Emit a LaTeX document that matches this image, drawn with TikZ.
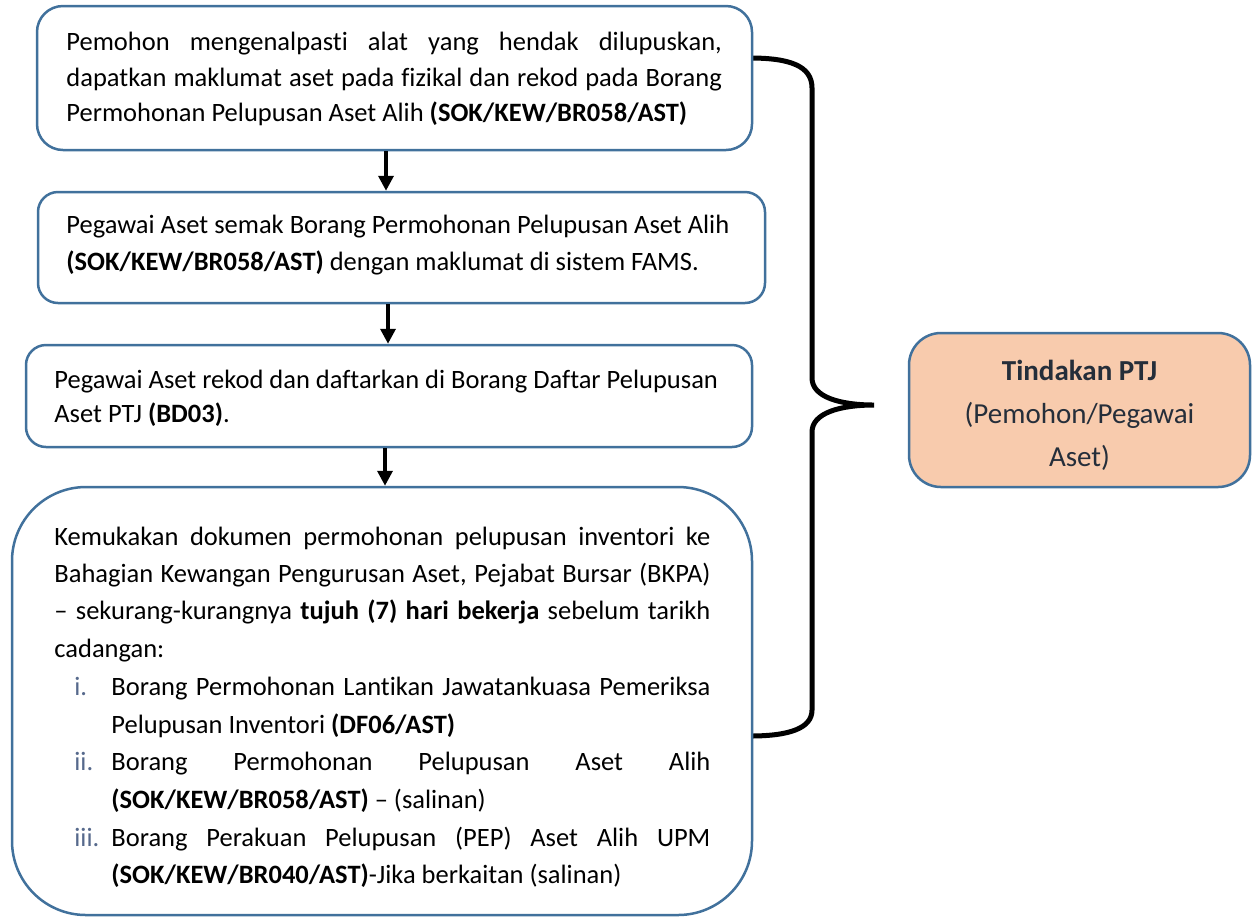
\documentclass[tikz,border=0pt]{standalone}
\usepackage{fontspec}
\setmainfont{Carlito}[Ligatures=NoCommon]
\usetikzlibrary{arrows.meta}
\definecolor{bordo}{HTML}{41719C}
\definecolor{peach}{HTML}{F8CBAD}
\definecolor{lbl}{HTML}{56698C}
\definecolor{darktxt}{HTML}{252E3A}
\begin{document}
\begin{tikzpicture}[x=0.5pt,y=-0.5pt,
  box/.style={draw=bordo,line width=1.25pt,rounded corners=#1,inner sep=0pt,fill=white},
  box/.default=11pt,
  txt/.style={anchor=base west,inner sep=0pt,font=\fontsize{13.25pt}{16pt}\selectfont},
  lab/.style={txt,text=lbl},
  ttxt/.style={anchor=base,inner sep=0pt,text=darktxt,font=\fontsize{14.5pt}{17pt}\selectfont},
  conn/.style={line width=1.75pt,-{Triangle[width=7.5pt,length=7.5pt]}},
  bracestyle/.style={line width=2.5pt,line cap=round}]
\useasboundingbox (0,0) rectangle (1252,918);
% brace
\draw[bracestyle] (750,58) .. controls (790,58) and (812,66) .. (812,88)
  -- (812,378) .. controls (812,397) and (840,405) .. (874,405)
  .. controls (840,405) and (812,413) .. (812,432)
  -- (812,710) .. controls (812,728) and (790,736) .. (750,736);
% boxes
\node[box=13pt,minimum width=357.5pt,minimum height=72pt] (b1) at (394.5,78) {};
\node[box=10pt,minimum width=363.5pt,minimum height=55.5pt] (b2) at (401.5,247.5) {};
\node[box=10pt,minimum width=363pt,minimum height=51pt] (b3) at (389,396) {};
\node[box=37pt,minimum width=370pt,minimum height=214pt] (b4) at (382,701) {};
\node[box=16pt,fill=peach,minimum width=170.5pt,minimum height=77pt] (t) at (1079.5,410) {};
% arrows
\coordinate (a1) at (386,0);
\coordinate (a2) at (388,0);
\coordinate (a3) at (385,0);
\draw[conn] (b1.south -| a1) -- (b2.north -| a1);
\draw[conn] (b2.south -| a2) -- (b3.north -| a2);
\draw[conn] (b3.south -| a3) -- (b4.north -| a3);
% box 1 text
\node[txt] (l11) at (66,50) {\makebox[327.75pt][s]{Pemohon mengenalpasti alat yang hendak dilupuskan,}};
\node[txt] (l12) at (66,86) {\makebox[327.75pt][s]{dapatkan maklumat aset pada fizikal dan rekod pada Borang}};
\node[txt] (l13) at (66,121) {Permohonan Pelupusan Aset Alih \textbf{(SOK/KEW/BR058/AST)}};
% box 2 text
\node[txt] (l21) at (66,233) {Pegawai Aset semak Borang Permohonan Pelupusan Aset Alih};
\node[txt] (l22) at (66,270) {\textbf{(SOK/KEW/BR058/AST)} dengan maklumat di sistem FAMS.};
% box 3 text
\node[txt] (l31) at (54,388) {Pegawai Aset rekod dan daftarkan di Borang Daftar Pelupusan};
\node[txt] (l32) at (54,422) {Aset PTJ \textbf{(BD03)}.};
% box 4 text
\node[txt] (l41) at (54,545) {\makebox[328pt][s]{Kemukakan dokumen permohonan pelupusan inventori ke}};
\node[txt] (l42) at (54,582) {\makebox[328pt][s]{Bahagian Kewangan Pengurusan Aset, Pejabat Bursar (BKPA)}};
\node[txt] (l43) at (54,619) {\makebox[328pt][s]{– sekurang-kurangnya \textbf{tujuh (7) hari bekerja} sebelum tarikh}};
\node[txt] (l44) at (54,657) {cadangan:};
\node[lab] (n1) at (74,695) {i.};
\node[lab] (n2) at (74,770) {ii.};
\node[lab] (n3) at (74,846) {iii.};
\node[txt] (i11) at (111,695) {\makebox[299.5pt][s]{Borang Permohonan Lantikan Jawatankuasa Pemeriksa}};
\node[txt] (i12) at (111,733) {Pelupusan Inventori \textbf{(DF06/AST)}};
\node[txt] (i21) at (111,770) {\makebox[299.5pt][s]{Borang Permohonan Pelupusan Aset Alih}};
\node[txt] (i22) at (111,808) {\textbf{(SOK/KEW/BR058/AST)} – (salinan)};
\node[txt] (i31) at (111,846) {\makebox[299.5pt][s]{Borang Perakuan Pelupusan (PEP) Aset Alih UPM}};
\node[txt] (i32) at (111,883) {\textbf{(SOK/KEW/BR040/AST)}-Jika berkaitan (salinan)};
% Tindakan text
\node[ttxt] (t1) at (1079.5,380) {\textbf{Tindakan PTJ}};
\node[ttxt] (t2) at (1079.5,423) {(Pemohon/Pegawai};
\node[ttxt] (t3) at (1079.5,466) {Aset)};
\end{tikzpicture}
\end{document}
